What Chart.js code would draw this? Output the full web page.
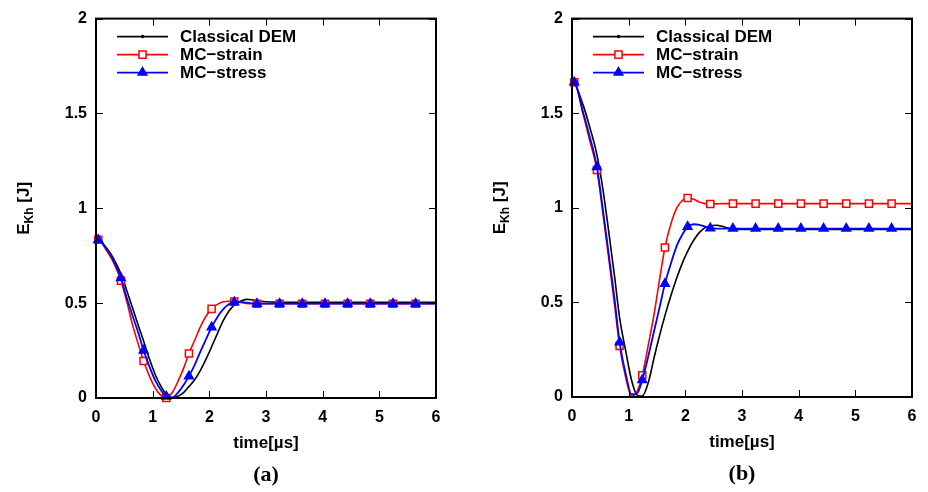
<!DOCTYPE html>
<html><head><meta charset="utf-8">
<script src="https://cdn.jsdelivr.net/npm/chart.js@4.4.1/dist/chart.umd.min.js"></script>
<style>
html,body{margin:0;padding:0;background:#fff;width:928px;height:492px;overflow:hidden}
.wrap{position:absolute;top:0;width:464px;height:492px}
canvas{display:block}
</style></head><body>
<div class="wrap" style="left:0"><canvas id="ca" width="464" height="492"></canvas></div>
<div class="wrap" style="left:464px"><canvas id="cb" width="464" height="492"></canvas></div>
<script>
// ---- data ----
const seriesNames = ['Classical DEM', 'MC\u2212strain', 'MC\u2212stress'];
const xTicks = [0, 1, 2, 3, 4, 5, 6];
const yTicks = [0, 0.5, 1, 1.5, 2];
const xTitle = 'time[\u00b5s]';
const yTitleMain = 'E', yTitleSub = 'Kh', yTitleUnit = ' [J]';
const captions = ['(a)', '(b)'];

const tGrid = [0, 0.04, 0.2, 0.3, 0.44, 0.55, 0.65, 0.75, 0.84, 0.95,
  1.05, 1.15, 1.24, 1.35, 1.45, 1.55, 1.64, 1.75, 1.85, 1.95,
  2.04, 2.15, 2.25, 2.35, 2.44, 2.55, 2.65, 2.75, 2.84, 3.0,
  3.24, 3.64, 4.04, 4.44, 4.84, 5.24, 5.64, 6.0];
const markerTimes = [0.04, 0.44, 0.84, 1.24, 1.64, 2.04, 2.44, 2.84, 3.24, 3.64, 4.04, 4.44, 4.84, 5.24, 5.64];

const demA = [0.835, 0.834, 0.785, 0.74, 0.655, 0.56, 0.47, 0.38, 0.30, 0.20,
  0.12, 0.06, 0.02, 0.0, 0.01, 0.03, 0.06, 0.10, 0.15, 0.21,
  0.27, 0.345, 0.41, 0.46, 0.49, 0.51, 0.52, 0.518, 0.512, 0.507,
  0.505, 0.505, 0.505, 0.505, 0.505, 0.505, 0.505, 0.505];
const strainA = [0.835, 0.834, 0.77, 0.72, 0.618, 0.50, 0.38, 0.28, 0.195, 0.11,
  0.05, 0.012, 0.0, 0.03, 0.09, 0.16, 0.235, 0.31, 0.38, 0.435,
  0.47, 0.495, 0.507, 0.51, 0.509, 0.503, 0.499, 0.497, 0.497, 0.497,
  0.497, 0.497, 0.497, 0.497, 0.497, 0.497, 0.497, 0.497];
const stressA = [0.835, 0.834, 0.78, 0.73, 0.632, 0.52, 0.43, 0.34, 0.251, 0.16,
  0.09, 0.04, 0.008, 0.003, 0.03, 0.07, 0.115, 0.18, 0.25, 0.315,
  0.373, 0.43, 0.47, 0.495, 0.505, 0.507, 0.503, 0.499, 0.497, 0.497,
  0.497, 0.497, 0.497, 0.497, 0.497, 0.497, 0.497, 0.497];

const demB = [1.665, 1.66, 1.54, 1.44, 1.28, 1.09, 0.87, 0.64, 0.42, 0.24,
  0.09, 0.01, 0.005, 0.08, 0.21, 0.33, 0.43, 0.54, 0.63, 0.71,
  0.77, 0.83, 0.87, 0.895, 0.905, 0.908, 0.902, 0.893, 0.888, 0.885,
  0.885, 0.885, 0.885, 0.885, 0.885, 0.885, 0.885, 0.885];
const strainB = [1.665, 1.663, 1.49, 1.37, 1.20, 0.96, 0.73, 0.49, 0.27, 0.10,
  0.005, 0.03, 0.115, 0.28, 0.44, 0.63, 0.79, 0.92, 1.0, 1.04,
  1.052, 1.045, 1.03, 1.022, 1.02, 1.021, 1.022, 1.022, 1.022, 1.022,
  1.022, 1.022, 1.022, 1.022, 1.022, 1.022, 1.022, 1.022];
const stressB = [1.665, 1.663, 1.50, 1.39, 1.215, 0.98, 0.75, 0.52, 0.29, 0.12,
  0.015, 0.02, 0.09, 0.22, 0.35, 0.48, 0.598, 0.71, 0.80, 0.86,
  0.90, 0.913, 0.91, 0.90, 0.892, 0.89, 0.89, 0.89, 0.89, 0.89,
  0.89, 0.89, 0.89, 0.89, 0.89, 0.89, 0.89, 0.89];

// ---- styling ----
const FONT = "'Liberation Sans', Arial, sans-serif";
const styles = [
  {color: '#000000', width: 1.6, style: 'circle', radius: 0, legendRadius: 1, fill: '#000000', order: 3},
  {color: '#ff0000', width: 1.6, style: 'rect', radius: 5, legendRadius: 5, fill: '#ffffff', order: 2},
  {color: '#0000ff', width: 1.8, style: 'triangle', radius: 5, legendRadius: 5, fill: '#0000ff', order: 1}
];

function drawMarker(ctx, style, x, y, r, stroke, fill, lw) {
  if (r <= 0) return;
  ctx.save();
  ctx.beginPath();
  if (style === 'rect') {
    const s = r * Math.SQRT1_2;
    ctx.rect(x - s, y - s, 2 * s, 2 * s);
  } else if (style === 'triangle') {
    let rad = 0;
    ctx.moveTo(x + Math.sin(rad) * r, y - Math.cos(rad) * r);
    rad += 2 * Math.PI / 3;
    ctx.lineTo(x + Math.sin(rad) * r, y - Math.cos(rad) * r);
    rad += 2 * Math.PI / 3;
    ctx.lineTo(x + Math.sin(rad) * r, y - Math.cos(rad) * r);
    ctx.closePath();
  } else {
    ctx.arc(x, y, r, 0, Math.PI * 2);
  }
  ctx.fillStyle = fill; ctx.fill();
  ctx.lineWidth = lw; ctx.strokeStyle = stroke; ctx.stroke();
  ctx.restore();
}

const decor = {
  id: 'decor',
  afterDraw(chart) {
    const ctx = chart.ctx, ca = chart.chartArea, o = chart.options.plugins.decor;
    const xs = chart.scales.x, ys = chart.scales.y;
    ctx.save();
    // inward ticks on all four sides
    ctx.strokeStyle = '#000'; ctx.lineWidth = 1;
    ctx.beginPath();
    xs.ticks.forEach(t => {
      const px = Math.round(xs.getPixelForValue(t.value)) + 0.5;
      ctx.moveTo(px, ca.bottom); ctx.lineTo(px, ca.bottom - 7);
      ctx.moveTo(px, ca.top); ctx.lineTo(px, ca.top + 7);
    });
    ys.ticks.forEach(t => {
      const py = Math.round(ys.getPixelForValue(t.value)) + 0.5;
      ctx.moveTo(ca.left, py); ctx.lineTo(ca.left + 7, py);
      ctx.moveTo(ca.right, py); ctx.lineTo(ca.right - 7, py);
    });
    ctx.stroke();
    // frame
    ctx.lineWidth = 2;
    ctx.strokeRect(ca.left, ca.top, ca.right - ca.left, ca.bottom - ca.top);
    // legend
    chart.data.datasets.forEach((ds, i) => {
      const y = ca.top + 18 + 18 * i;
      const x0 = ca.left + 21, x1 = ca.left + 72;
      ctx.beginPath(); ctx.strokeStyle = ds.borderColor; ctx.lineWidth = ds.borderWidth;
      ctx.moveTo(x0, y); ctx.lineTo(x1, y); ctx.stroke();
      drawMarker(ctx, ds.pointStyle, (x0 + x1) / 2, y, ds.legendRadius, ds.borderColor, ds.pointBackgroundColor, 1.5);
      ctx.fillStyle = '#000'; ctx.font = 'bold 17px ' + FONT;
      ctx.textAlign = 'left'; ctx.textBaseline = 'middle';
      ctx.fillText(ds.label, ca.left + 84, y + 1);
    });
    // x title
    const cx = (ca.left + ca.right) / 2;
    ctx.fillStyle = '#000'; ctx.textAlign = 'center'; ctx.textBaseline = 'middle';
    ctx.font = 'bold 17px ' + FONT;
    ctx.fillText(xTitle, cx, ca.bottom + 45);
    // caption
    ctx.font = "bold 22px 'Liberation Serif', 'Times New Roman', serif";
    ctx.fillText(o.caption, cx, ca.bottom + 77);
    // y title with subscript
    ctx.save();
    ctx.translate(ca.left - 73, (ca.top + ca.bottom) / 2);
    ctx.rotate(-Math.PI / 2);
    const fMain = 'bold 17px ' + FONT, fSub = 'bold 12px ' + FONT;
    ctx.font = fMain; const wE = ctx.measureText(yTitleMain).width; const wU = ctx.measureText(yTitleUnit).width;
    ctx.font = fSub; const wS = ctx.measureText(yTitleSub).width;
    let x = -(wE + wS + wU) / 2;
    ctx.textAlign = 'left'; ctx.textBaseline = 'alphabetic';
    ctx.font = fMain; ctx.fillText(yTitleMain, x, 6); x += wE;
    ctx.font = fSub; ctx.fillText(yTitleSub, x, 10); x += wS;
    ctx.font = fMain; ctx.fillText(yTitleUnit, x, 6);
    ctx.restore();
    ctx.restore();
  }
};

function makeChart(id, series, caption, pad, yAxisW, xAxisH) {
  const datasets = series.map((vals, i) => {
    const s = styles[i];
    return {
      label: seriesNames[i],
      data: tGrid.map((t, k) => ({x: t, y: vals[k]})),
      borderColor: s.color,
      borderWidth: s.width,
      pointStyle: s.style,
      pointRadius: ctx => (s.radius > 0 && markerTimes.includes(ctx.raw.x)) ? s.radius : 0,
      pointHoverRadius: 0,
      pointBorderWidth: 1.5,
      pointBorderColor: s.color,
      pointBackgroundColor: s.fill,
      legendRadius: s.legendRadius,
      cubicInterpolationMode: 'monotone',
      fill: false,
      clip: false,
      order: s.order
    };
  });
  return new Chart(document.getElementById(id), {
    type: 'line',
    data: {datasets},
    options: {
      responsive: false,
      animation: false,
      events: [],
      layout: {padding: pad},
      plugins: {legend: {display: false}, tooltip: {enabled: false}, decor: {caption}},
      scales: {
        x: {
          type: 'linear', min: 0, max: 6,
          afterBuildTicks: sc => { sc.ticks = xTicks.map(v => ({value: v})); },
          afterFit: sc => { sc.height = xAxisH; },
          grid: {display: false, drawTicks: false},
          border: {display: false},
          ticks: {color: '#000', font: {family: FONT, size: 16, weight: 'bold'}, padding: 10, maxRotation: 0, autoSkip: false,
                  callback: v => String(v)}
        },
        y: {
          type: 'linear', min: 0, max: 2,
          afterBuildTicks: sc => { sc.ticks = yTicks.map(v => ({value: v})); },
          afterFit: sc => { sc.width = yAxisW; },
          grid: {display: false, drawTicks: false},
          border: {display: false},
          ticks: {color: '#000', font: {family: FONT, size: 16, weight: 'bold'}, padding: 9, autoSkip: false,
                  callback: v => String(v)}
        }
      }
    },
    plugins: [decor]
  });
}

makeChart('ca', [demA, strainA, stressA], captions[0], {top: 16, right: 28, left: 0, bottom: 0}, 96, 94);
makeChart('cb', [demB, strainB, stressB], captions[1], {top: 15, right: 16, left: 0, bottom: 0}, 108, 95);
</script>
</body></html>
